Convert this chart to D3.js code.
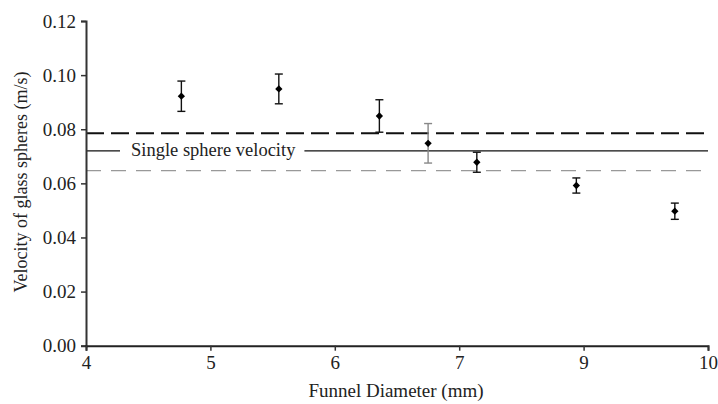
<!DOCTYPE html>
<html>
<head>
<meta charset="utf-8">
<script src="https://cdn.jsdelivr.net/npm/d3@7"></script>
<style>
  html, body { margin: 0; padding: 0; background: #fff; }
  svg { display: block; }
</style>
</head>
<body>
<svg id="chart" width="718" height="404"></svg>
<script>
// ---- data ----
const diameters = [4.92, 5.86, 6.83, 7.30, 7.77, 8.73, 9.68];
const velocities = [0.0922, 0.0949, 0.0849, 0.0748, 0.0678, 0.0592, 0.0497];
const errors = [0.0056, 0.0055, 0.0060, 0.0073, 0.0037, 0.0028, 0.0030];
const errorColors = ["#111", "#111", "#111", "#888", "#111", "#111", "#111"];
const xTickValues = [4, 5.2, 6.4, 7.6, 8.8, 10];
const xTickLabels = ["4", "5", "6", "7", "9", "10"];
const yTickValues = [0, 0.02, 0.04, 0.06, 0.08, 0.10, 0.12];
const upperDashed = 0.0785;
const singleSphere = 0.0720;
const lowerDashed = 0.0647;
const singleLabel = "Single sphere velocity";

const FONT = "'Liberation Serif', 'Times New Roman', serif";

// ---- layout ----
const svg = d3.select("#chart");
const x = d3.scaleLinear().domain([4, 10]).range([86, 708]);
const y = d3.scaleLinear().domain([0, 0.12]).range([345.7, 21]);

// reference lines
svg.append("line")
  .attr("x1", x(4)).attr("x2", x(10))
  .attr("y1", y(upperDashed)).attr("y2", y(upperDashed))
  .attr("stroke", "#111").attr("stroke-width", 2)
  .attr("stroke-dasharray", "18,7");
svg.append("line")
  .attr("x1", x(4)).attr("x2", x(10))
  .attr("y1", y(lowerDashed)).attr("y2", y(lowerDashed))
  .attr("stroke", "#999").attr("stroke-width", 1.2)
  .attr("stroke-dasharray", "15,10");

// single sphere line with label
const lbl = svg.append("text")
  .attr("x", 131).attr("y", y(singleSphere) + 5.5)
  .style("font-family", FONT).style("font-size", "18.5px").style("fill", "#222")
  .text(singleLabel);
const tw = lbl.node().getComputedTextLength();
svg.append("line")
  .attr("x1", x(4)).attr("x2", 120)
  .attr("y1", y(singleSphere)).attr("y2", y(singleSphere))
  .attr("stroke", "#111").attr("stroke-width", 1.4);
svg.append("line")
  .attr("x1", 131 + tw + 9).attr("x2", x(10))
  .attr("y1", y(singleSphere)).attr("y2", y(singleSphere))
  .attr("stroke", "#111").attr("stroke-width", 1.4);

// error bars
const pts = diameters.map((d, i) => ({ x: d, v: velocities[i], e: errors[i], c: errorColors[i] }));
const eb = svg.append("g").selectAll("g").data(pts).join("g");
eb.append("line")
  .attr("x1", d => x(d.x)).attr("x2", d => x(d.x))
  .attr("y1", d => y(d.v + d.e)).attr("y2", d => y(d.v - d.e))
  .attr("stroke", d => d.c).attr("stroke-width", 1.4);
eb.append("line")
  .attr("x1", d => x(d.x) - 4).attr("x2", d => x(d.x) + 4)
  .attr("y1", d => y(d.v + d.e)).attr("y2", d => y(d.v + d.e))
  .attr("stroke", d => d.c).attr("stroke-width", 1.4);
eb.append("line")
  .attr("x1", d => x(d.x) - 4).attr("x2", d => x(d.x) + 4)
  .attr("y1", d => y(d.v - d.e)).attr("y2", d => y(d.v - d.e))
  .attr("stroke", d => d.c).attr("stroke-width", 1.4);
// diamond markers
svg.append("g").selectAll("path").data(pts).join("path")
  .attr("transform", d => `translate(${x(d.x)},${y(d.v)})`)
  .attr("d", d3.symbol(d3.symbolDiamond2, 34))
  .attr("fill", "#000");

// axes
const yAxis = d3.axisLeft(y).tickValues(yTickValues).tickFormat(d3.format(".2f")).tickSize(5).tickPadding(5);
const gy = svg.append("g").attr("transform", `translate(${x(4)},0)`).call(yAxis);
gy.select(".domain").attr("stroke", "#333").attr("stroke-width", 2);
gy.selectAll(".tick line").attr("stroke", "#333").attr("stroke-width", 1.5);
gy.selectAll(".tick text").style("font-family", FONT).style("font-size", "19px").style("fill", "#222");

const xAxis = d3.axisBottom(x).tickValues(xTickValues)
  .tickFormat((d, i) => xTickLabels[i]).tickSize(5).tickPadding(5);
const gx = svg.append("g").attr("transform", `translate(0,${y(0)})`).call(xAxis);
gx.select(".domain").attr("stroke", "#222").attr("stroke-width", 2);
gx.selectAll(".tick line").attr("stroke", "#333").attr("stroke-width", 1.5);
gx.selectAll(".tick text").style("font-family", FONT).style("font-size", "19px").style("fill", "#222");

// axis titles
svg.append("text")
  .attr("x", 396).attr("y", 397)
  .attr("text-anchor", "middle")
  .style("font-family", FONT).style("font-size", "19px").style("fill", "#222")
  .text("Funnel Diameter (mm)");
svg.append("text")
  .attr("transform", "translate(27,182) rotate(-90)")
  .attr("text-anchor", "middle")
  .style("font-family", FONT).style("font-size", "18px").style("fill", "#222")
  .text("Velocity of glass spheres (m/s)");
</script>
</body>
</html>
